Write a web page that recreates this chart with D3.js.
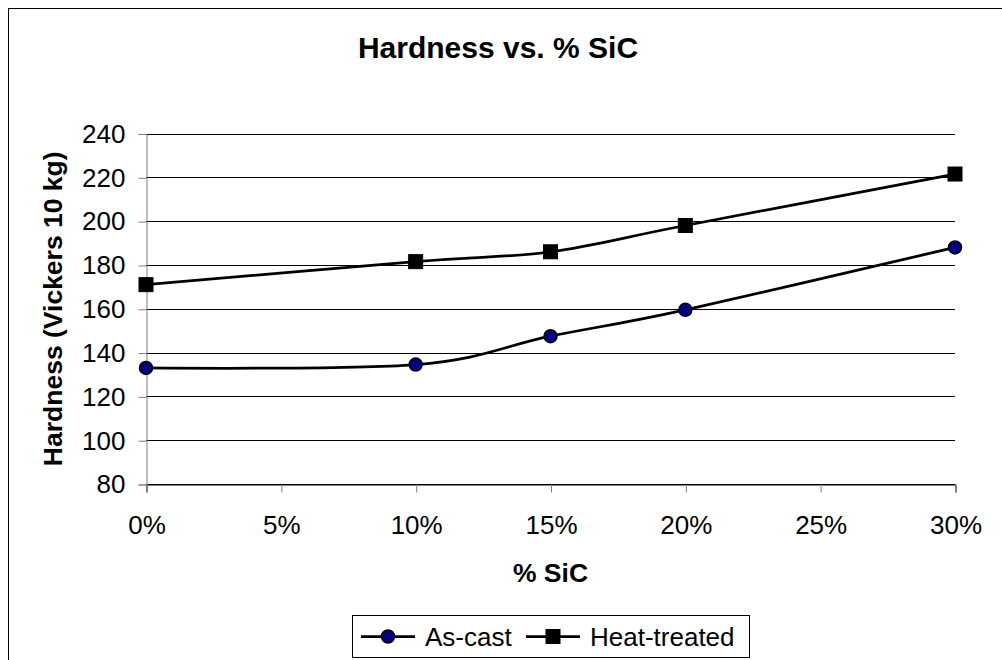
<!DOCTYPE html>
<html>
<head>
<meta charset="utf-8">
<script src="https://cdn.jsdelivr.net/npm/d3@7"></script>
<style>
  html, body { margin: 0; padding: 0; background: #fff; }
  svg { display: block; font-family: "Liberation Sans", Arial, sans-serif; }
</style>
</head>
<body>
<svg id="chart" width="1002" height="660"></svg>
<script>
// SiC content (fraction) for each specimen
const sicFraction = [0, 0.10, 0.15, 0.20, 0.30];
// Vickers hardness (10 kg load)
const asCast = [133, 134.5, 147.5, 159.5, 188];
const heatTreated = [171, 181.5, 186, 198, 221.5];
// Axis ticks
const yTicks = [80, 100, 120, 140, 160, 180, 200, 220, 240];
const xTicks = [0, 0.05, 0.10, 0.15, 0.20, 0.25, 0.30];
const seriesNames = ["As-cast", "Heat-treated"];

const svg = d3.select("#chart");
const plot = { left: 146, right: 955, top: 133.5, bottom: 484 };

const x = d3.scaleLinear().domain([0, 0.30]).range([plot.left, plot.right]);
const y = d3.scaleLinear().domain([80, 240]).range([plot.bottom, plot.top]);

// chart frame
svg.append("rect")
  .attr("x", 8.5).attr("y", 8.5)
  .attr("width", 1010).attr("height", 670)
  .attr("fill", "#fff").attr("stroke", "#000").attr("stroke-width", 1);

// title
svg.append("text")
  .attr("x", 498).attr("y", 58)
  .attr("text-anchor", "middle")
  .attr("font-size", 30).attr("font-weight", "bold")
  .text("Hardness vs. % SiC");

// horizontal gridlines
svg.append("g").selectAll("line")
  .data(yTicks).join("line")
  .attr("x1", plot.left).attr("x2", plot.right)
  .attr("y1", d => Math.round(y(d)) + 0.5).attr("y2", d => Math.round(y(d)) + 0.5)
  .attr("stroke", "#000").attr("stroke-width", 1);

// y axis
const yAxis = d3.axisLeft(y).tickValues(yTicks).tickSize(8).tickPadding(13).tickFormat(d3.format("d"));
const gy = svg.append("g")
  .attr("transform", `translate(${plot.left + 0.5},0.5)`)
  .call(yAxis);
gy.select(".domain").attr("stroke", "#808080");
gy.selectAll(".tick line").attr("stroke", "#808080");
gy.selectAll(".tick text")
  .attr("font-size", 26).attr("font-family", "Liberation Sans, Arial, sans-serif").attr("fill", "#000");

// x axis
const xAxis = d3.axisBottom(x).tickValues(xTicks).tickSize(8).tickPadding(23).tickFormat(d3.format(".0%"));
const gx = svg.append("g")
  .attr("transform", `translate(0.5,${Math.round(plot.bottom) + 0.5})`)
  .call(xAxis);
gx.select(".domain").attr("stroke", "#000");
gx.selectAll(".tick line").attr("stroke", "#808080");
gx.selectAll(".tick text")
  .attr("font-size", 26).attr("font-family", "Liberation Sans, Arial, sans-serif").attr("fill", "#000");
// keep the gray vertical axis on top of the bottom axis line
gy.raise();

// axis titles
svg.append("text")
  .attr("x", (plot.left + plot.right) / 2).attr("y", 582)
  .attr("text-anchor", "middle")
  .attr("font-size", 26.5).attr("font-weight", "bold")
  .text("% SiC");

svg.append("text")
  .attr("transform", `translate(62,${(plot.top + plot.bottom) / 2}) rotate(-90)`)
  .attr("text-anchor", "middle")
  .attr("font-size", 26.5).attr("font-weight", "bold")
  .text("Hardness (Vickers 10 kg)");

// smoothed series lines
const line = d3.line()
  .x(d => x(d[0])).y(d => y(d[1]))
  .curve(d3.curveCardinal.tension(0));

const seriesData = [
  sicFraction.map((s, i) => [s, asCast[i]]),
  sicFraction.map((s, i) => [s, heatTreated[i]])
];

seriesData.forEach(data => {
  svg.append("path")
    .datum(data)
    .attr("d", line)
    .attr("fill", "none")
    .attr("stroke", "#000")
    .attr("stroke-width", 2.75);
});

// markers
function drawCircle(g, cx, cy) {
  g.append("circle").attr("cx", cx).attr("cy", cy).attr("r", 6.5)
    .attr("fill", "#000080").attr("stroke", "#000").attr("stroke-width", 1.5);
}
function drawSquare(g, cx, cy) {
  g.append("rect").attr("x", cx - 7).attr("y", cy - 7).attr("width", 14).attr("height", 14)
    .attr("fill", "#000").attr("stroke", "#000").attr("stroke-width", 1);
}

const markers = svg.append("g");
seriesData[0].forEach(d => drawCircle(markers, x(d[0]), y(d[1])));
seriesData[1].forEach(d => drawSquare(markers, x(d[0]), y(d[1])));

// legend
const legend = svg.append("g");
legend.append("rect")
  .attr("x", 352.5).attr("y", 615.5).attr("width", 397).attr("height", 42)
  .attr("fill", "#fff").attr("stroke", "#000").attr("stroke-width", 1);

const legendItems = [
  { name: seriesNames[0], x0: 361, draw: drawCircle },
  { name: seriesNames[1], x0: 526, draw: drawSquare }
];
legendItems.forEach(it => {
  legend.append("line")
    .attr("x1", it.x0).attr("x2", it.x0 + 54)
    .attr("y1", 636.5).attr("y2", 636.5)
    .attr("stroke", "#000").attr("stroke-width", 2.75);
  it.draw(legend, it.x0 + 27, 636.5);
  legend.append("text")
    .attr("x", it.x0 + 64).attr("y", 646)
    .attr("font-size", 26)
    .text(it.name);
});
</script>
</body>
</html>
